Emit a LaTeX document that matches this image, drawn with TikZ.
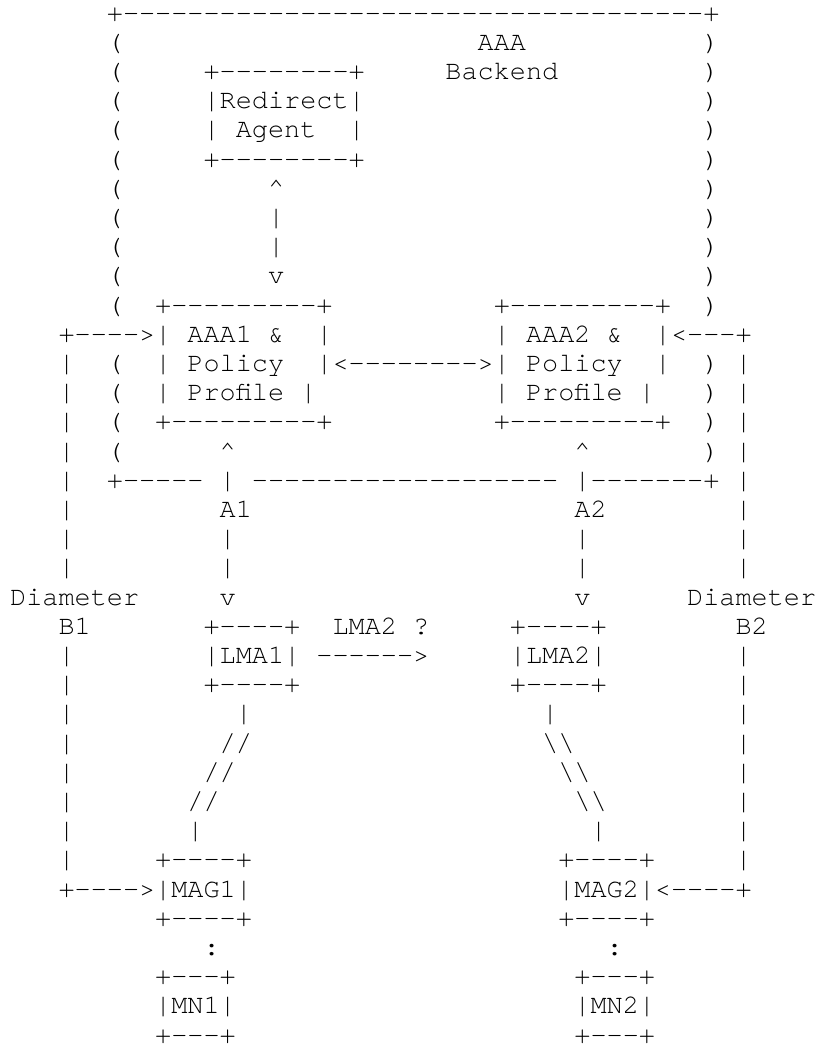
\documentclass[tikz,border=0pt]{standalone}
\usepackage{fontspec}
\setmonofont{texgyrecursor-regular.otf}
\newcommand\diagfont{\ttfamily\fontsize{20.15pt}{21.9pt}\selectfont}
\tikzset{
  ascii/.style={anchor=base west, inner sep=0pt, outer sep=0pt, font=\diagfont},
}

\begin{document}
\begin{tikzpicture}[x=12.09pt,y=-21.9pt]
\useasboundingbox (-0.63,-0.72) rectangle (49.87,35.10);

% AAA backend cloud
\node[ascii] (cloudTop) at (6,0) {+------------------------------------+};
\foreach \r in {1,2,3,4,5,6,7,8,9,10,12,13,14,15} {
  \node[ascii] (lpar\r) at (6,\r) {(};
  \node[ascii] (rpar\r) at (43,\r) {)};
}
\node[ascii] (aaaLbl) at (29,1) {AAA};
\node[ascii] (backendLbl) at (27,2) {Backend};
\node[ascii] (cloudBot) at (6,16) {+-----};
\node[ascii] (cloudBotMid) at (15,16) {-------------------};
\node[ascii] (cloudBotRight) at (35,16) {|-------+};

\node[ascii] (redirTop) at (12,2) {+--------+};
\node[ascii] (redirect) at (12,3) {|Redirect|};
\node[ascii] (agent) at (12,4) {|~Agent~~|};
\node[ascii] (redirBot) at (12,5) {+--------+};
\node[ascii] (redirUp) at (16,6) {\textasciicircum};
\node[ascii] (redirLn1) at (16,7) {|};
\node[ascii] (redirLn2) at (16,8) {|};
\node[ascii] (redirDown) at (16,9) {v};

\node[ascii] (aaaOneTop) at (9,10) {+---------+};
\node[ascii] (aaaOne) at (9,11) {|~AAA1~\&~~|};
\node[ascii] (policyOne) at (9,12) {|~Policy~~|};
\node[ascii] (profileOne) at (9,13) {|~Profile~|};
\node[ascii] (aaaOneBot) at (9,14) {+---------+};

\node[ascii] (aaaTwoTop) at (30,10) {+---------+};
\node[ascii] (aaaTwo) at (30,11) {|~AAA2~\&~~|};
\node[ascii] (policyTwo) at (30,12) {|~Policy~~|};
\node[ascii] (profileTwo) at (30,13) {|~Profile~|};
\node[ascii] (aaaTwoBot) at (30,14) {+---------+};

\node[ascii] (aaaSync) at (20,12) {<-------->};

% Diameter B1 / B2
\node[ascii] (bOneIn) at (3,11) {+---->};
\node[ascii] (bTwoIn) at (41,11) {<---+};
\foreach \r in {12,13,14,15,16,17,18,19,22,23,24,25,26,27,28,29} {
  \node[ascii] (bOneLn\r) at (3,\r) {|};
  \node[ascii] (bTwoLn\r) at (45,\r) {|};
}
\node[ascii] (diamOne) at (0,20) {Diameter};
\node[ascii] (bOne) at (3,21) {B1};
\node[ascii] (diamTwo) at (42,20) {Diameter};
\node[ascii] (bTwo) at (45,21) {B2};

% A1 / A2
\node[ascii] (aOneUp) at (13,15) {\textasciicircum};
\node[ascii] (aOneLn0) at (13,16) {|};
\node[ascii] (aOne) at (13,17) {A1};
\node[ascii] (aOneLn1) at (13,18) {|};
\node[ascii] (aOneLn2) at (13,19) {|};
\node[ascii] (aOneDown) at (13,20) {v};

\node[ascii] (aTwoUp) at (35,15) {\textasciicircum};
\node[ascii] (aTwo) at (35,17) {A2};
\node[ascii] (aTwoLn1) at (35,18) {|};
\node[ascii] (aTwoLn2) at (35,19) {|};
\node[ascii] (aTwoDown) at (35,20) {v};

% LMAs
\node[ascii] (lmaOneTop) at (12,21) {+----+};
\node[ascii] (lmaOne) at (12,22) {|LMA1|};
\node[ascii] (lmaOneBot) at (12,23) {+----+};
\node[ascii] (lmaTwoTop) at (31,21) {+----+};
\node[ascii] (lmaTwo) at (31,22) {|LMA2|};
\node[ascii] (lmaTwoBot) at (31,23) {+----+};
\node[ascii] (lmaAsk) at (20,21) {LMA2~?};
\node[ascii] (lmaArrow) at (19,22) {------>};

\node[ascii] (linkOne0) at (14,24) {|};
\node[ascii] (linkOne1) at (13,25) {//};
\node[ascii] (linkOne2) at (12,26) {//};
\node[ascii] (linkOne3) at (11,27) {//};
\node[ascii] (linkOne4) at (11,28) {|};

\node[ascii] (linkTwo0) at (33,24) {|};
\node[ascii] (linkTwo1) at (33,25) {\textbackslash\textbackslash};
\node[ascii] (linkTwo2) at (34,26) {\textbackslash\textbackslash};
\node[ascii] (linkTwo3) at (35,27) {\textbackslash\textbackslash};
\node[ascii] (linkTwo4) at (36,28) {|};

% MAGs and MNs
\node[ascii] (magOneTop) at (9,29) {+----+};
\node[ascii] (magOne) at (3,30) {+---->|MAG1|};
\node[ascii] (magOneBot) at (9,31) {+----+};
\node[ascii] (magTwoTop) at (34,29) {+----+};
\node[ascii] (magTwo) at (34,30) {|MAG2|<----+};
\node[ascii] (magTwoBot) at (34,31) {+----+};

\node[ascii] (mnOneDots) at (12,32) {:};
\node[ascii] (mnOneTop) at (9,33) {+---+};
\node[ascii] (mnOne) at (9,34) {|MN1|};
\node[ascii] (mnOneBot) at (9,35) {+---+};
\node[ascii] (mnTwoDots) at (37,32) {:};
\node[ascii] (mnTwoTop) at (35,33) {+---+};
\node[ascii] (mnTwo) at (35,34) {|MN2|};
\node[ascii] (mnTwoBot) at (35,35) {+---+};
\end{tikzpicture}
\end{document}
